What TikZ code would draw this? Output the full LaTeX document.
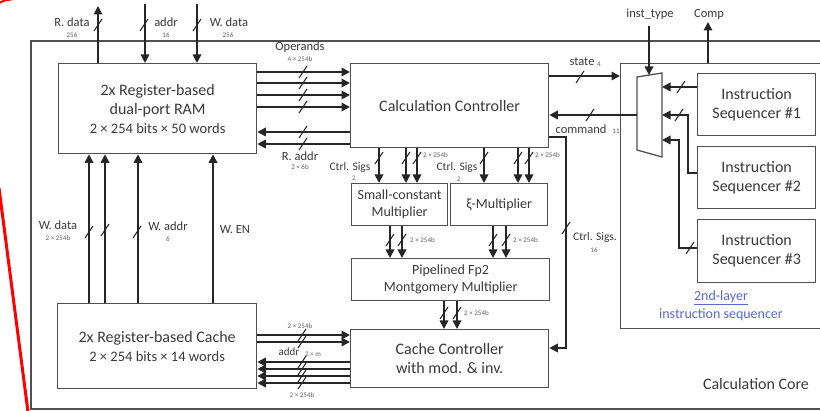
\documentclass[tikz,border=0pt]{standalone}
\usepackage{fontspec}
\setmainfont{Carlito}
\usetikzlibrary{arrows.meta}
\definecolor{wirec}{HTML}{262626}
\definecolor{boxc}{HTML}{505050}
\definecolor{txtc}{HTML}{3A3A3A}
\definecolor{bluec}{HTML}{5A6AC8}
\newcommand\slsh[2]{\draw[slashline] ({#1-4},{#2+6}) -- ({#1+4},{#2-6});}
\begin{document}
\begin{tikzpicture}[x=1pt,y=-1pt,
  box/.style={draw=boxc, line width=1.3pt, fill=white, inner sep=0pt, align=center, text=txtc, anchor=north west, font=\fontsize{16}{19}\selectfont},
  wire/.style={draw=wirec, line width=1.7pt},
  arr/.style={wire, -{Triangle[length=8.5pt,width=8.5pt]}},
  slashline/.style={draw=wirec, line width=1pt},
  lbl/.style={inner sep=0pt, text=txtc, font=\fontsize{12.5}{14}\selectfont},
  tiny/.style={inner sep=0pt, text=txtc!80, font=\fontsize{7}{8}\selectfont},
  smallbox/.style={font=\fontsize{14}{17}\selectfont}
]
\useasboundingbox (0,0) rectangle (820,411);
\clip (0,0) rectangle (820,411);
\fill[white] (0,0) rectangle (820,411);

% frames
\node[draw=boxc, line width=1.7pt, inner sep=0pt, anchor=north west, minimum width=810pt, minimum height=368pt] (core) at (30,40) {};
\node[lbl, font=\fontsize{16}{19}\selectfont] (corel) at (756,384) {Calculation Core};
\node[draw=boxc, line width=1.3pt, inner sep=0pt, anchor=north west, minimum width=215pt, minimum height=265pt] (l2) at (620,63) {};
\node[lbl, text=bluec, align=center, font=\fontsize{14}{18}\selectfont] (l2l) at (721,306) {\underline{2nd-layer}\\instruction sequencer};

% boxes
\node[box, minimum width=198pt, minimum height=90pt] (ram) at (58,63) {2x Register-based\\dual-port RAM\\{\fontsize{14.5}{19}\selectfont 2 × 254 bits × 50 words}};
\node[box, minimum width=198pt, minimum height=84pt] (cc) at (350,63) {Calculation Controller};
\node[box, smallbox, minimum width=96pt, minimum height=42pt] (scm) at (351,183) {Small-constant\\Multiplier};
\node[box, smallbox, minimum width=97pt, minimum height=42pt] (xi) at (450,183) {ξ-Multiplier};
\node[box, smallbox, minimum width=198pt, minimum height=42pt] (pmm) at (351,258) {Pipelined Fp2\\Montgomery Multiplier};
\node[box, minimum width=198pt, minimum height=58pt] (cac) at (350,329) {Cache Controller\\with mod. \& inv.};
\node[box, minimum width=199pt, minimum height=85pt] (cache) at (57,303) {2x Register-based Cache\\{\fontsize{14.5}{19}\selectfont 2 × 254 bits × 14 words}};
\node[box, minimum width=118pt, minimum height=62pt] (is1) at (697,73) {Instruction\\Sequencer \#1};
\node[box, minimum width=118pt, minimum height=62pt] (is2) at (697,146) {Instruction\\Sequencer \#2};
\node[box, minimum width=118pt, minimum height=63pt] (is3) at (697,219) {Instruction\\Sequencer \#3};

% mux
\draw[draw=boxc, line width=1.3pt, fill=white] (637,77) -- (662,73) -- (662,157) -- (637,150) -- cycle;
\coordinate (muxw) at (637,115);
\coordinate (muxe) at (662,115);
\coordinate (muxt) at (649,75);

% top external signals
\coordinate (rdt) at (98,6);
\coordinate (adt) at (145,4);
\coordinate (wdt) at (197,4);
\draw[arr] (ram.north -| rdt) -- (rdt);
\draw[arr] (adt) -- (ram.north -| adt);
\draw[arr] (wdt) -- (ram.north -| wdt);
\slsh{98}{25}\slsh{144}{25}\slsh{197}{25}
\node[lbl] (lrd) at (72,22) {R. data};
\node[tiny] (lrd2) at (72,35) {256};
\node[lbl] (lad) at (166,22) {addr};
\node[tiny] (lad2) at (166,35) {16};
\node[lbl] (lwd) at (229,22) {W. data};
\node[tiny] (lwd2) at (228,35) {256};

\coordinate (itt) at (649,26);
\coordinate (cpt) at (708,22);
\draw[arr] (itt) -- (muxt);
\draw[arr] (l2.north -| cpt) -- (cpt);
\node[lbl] (lit) at (650,14) {inst\_type};
\node[lbl] (lcp) at (709,14) {Comp};

% operands and R. addr
\foreach \yy in {72,83,95,107} {
  \draw[arr] (ram.east |- 0,\yy) -- (cc.west |- 0,\yy);
  \slsh{303}{\yy}
}
\foreach \yy in {132,144} {
  \draw[arr] (cc.west |- 0,\yy) -- (ram.east |- 0,\yy);
  \slsh{303}{\yy}
}
\node[lbl] (lop) at (300,47) {Operands};
\node[tiny] (lop2) at (300,59) {4 × 254b};
\node[lbl] (lra) at (300,156) {R. addr};
\node[tiny] (lra2) at (300,167) {2 × 6b};

% state / command
\draw[arr] (cc.east |- 0,76) -- (l2.west |- 0,76);
\slsh{580}{77}
\node[lbl] (lst) at (582,62) {state};
\node[tiny] (lst2) at (599,64) {4};
\draw[arr] (muxw) -- (cc.east |- muxw);
\slsh{590}{115}
\node[lbl] (lcm) at (581,129) {command};
\node[tiny] (lcm2) at (616,131) {11};

% sequencers to mux
\draw[arr] (is1.west |- 0,87) -- (muxe |- 0,87);
\slsh{681}{87}
\coordinate (s2a) at (688,173);
\coordinate (s2b) at (688,115);
\draw[arr] (is2.west |- s2a) -- (s2a) -- (s2b) -- (muxe);
\slsh{679}{115}
\coordinate (s3a) at (679,248);
\coordinate (s3b) at (679,140);
\draw[arr] (is3.west |- s3a) -- (s3a) -- (s3b) -- (muxe |- s3b);
\slsh{690}{248}

% ctrl sigs to cache controller
\coordinate (cs1) at (566,137);
\coordinate (cs2) at (566,348);
\draw[arr] (cc.east |- cs1) -- (cs1) -- (cs2) -- (cac.east |- cs2);
\slsh{566}{228}
\node[lbl, font=\fontsize{11.5}{13}\selectfont] (lcs) at (595,237) {Ctrl. Sigs.};
\node[tiny] (lcs2) at (594,250) {16};

% CC to multipliers
\foreach \xx in {379,406,417} {
  \draw[arr] (cc.south -| \xx,0) -- (scm.north -| \xx,0);
  \slsh{\xx}{158}
}
\foreach \xx in {484,518,529} {
  \draw[arr] (cc.south -| \xx,0) -- (xi.north -| \xx,0);
  \slsh{\xx}{158}
}
\node[lbl, font=\fontsize{11.5}{13}\selectfont] (lc1) at (350,167) {Ctrl. Sigs};
\node[tiny] (lc1b) at (354,178) {2};
\node[lbl, font=\fontsize{11.5}{13}\selectfont] (lc2) at (457,167) {Ctrl. Sigs};
\node[tiny] (lc2b) at (459,179) {2};
\node[tiny, anchor=west] (lc1c) at (423,155) {2 × 254b};
\node[tiny, anchor=west] (lc2c) at (535,155) {2 × 254b};

% multipliers to pipelined
\foreach \xx in {390,402} {
  \draw[arr] (scm.south -| \xx,0) -- (pmm.north -| \xx,0);
  \slsh{\xx}{240}
}
\foreach \xx in {493,506} {
  \draw[arr] (xi.south -| \xx,0) -- (pmm.north -| \xx,0);
  \slsh{\xx}{240}
}
\node[tiny, anchor=west] (lm1) at (410,240) {2 × 254b};
\node[tiny, anchor=west] (lm2) at (513,240) {2 × 254b};

% pipelined to cache controller
\foreach \xx in {444,457} {
  \draw[arr] (pmm.south -| \xx,0) -- (cac.north -| \xx,0);
  \slsh{\xx}{313}
}
\node[tiny, anchor=west] (lpc) at (464,313) {2 × 254b};

% cache <-> cache controller
\foreach \yy in {335,342} {
  \draw[arr] (cache.east |- 0,\yy) -- (cac.west |- 0,\yy);
  \slsh{302}{\yy}
}
\foreach \yy in {362,369,376,383} {
  \draw[arr] (cac.west |- 0,\yy) -- (cache.east |- 0,\yy);
  \slsh{302}{\yy}
}
\node[tiny] (lcc1) at (300,326) {2 × 254b};
\node[lbl, font=\fontsize{11}{12}\selectfont] (lcc2) at (289,352) {addr};
\node[tiny] (lcc3) at (313,354) {2 × m};
\node[tiny] (lcc4) at (302,395) {2 × 254b};

% cache to RAM
\foreach \xx in {89,105,138,213} {
  \draw[arr] (cache.north -| \xx,0) -- (ram.south -| \xx,0);
}
\slsh{89}{232}\slsh{105}{230}\slsh{137}{232}
\node[lbl] (lw1) at (58,225) {W. data};
\node[tiny] (lw1b) at (58,238) {2 × 254b};
\node[lbl] (lw2) at (168,226) {W. addr};
\node[tiny] (lw2b) at (168,239) {6};
\node[lbl] (lw3) at (235,230) {W. EN};

% red stroke
\draw[red, line width=3pt] (-1,188) -- (28,412);
\draw[red, line width=2pt] (-1,3) .. controls (4,0.5) .. (14,-1);
\end{tikzpicture}
\end{document}
